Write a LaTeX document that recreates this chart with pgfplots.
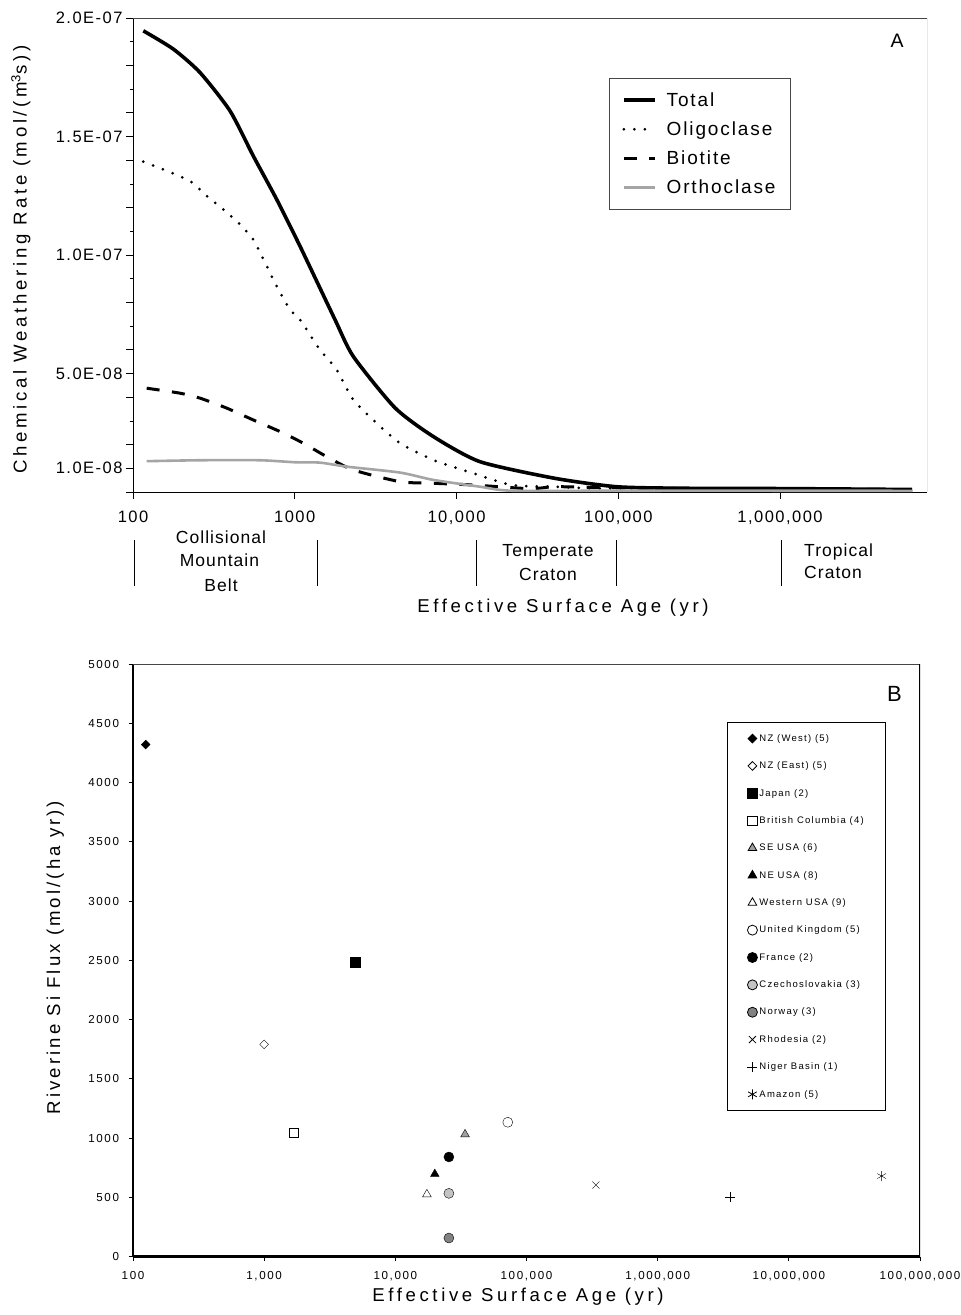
\documentclass[border=0pt]{standalone}
\usepackage{fontspec}
\setmainfont{Liberation Sans}
\usepackage{pgfplots}
\usepackage{pgfplotstable}
\pgfplotsset{compat=1.18}

\newcommand\tickA{\fontsize{16.5bp}{19bp}\selectfont\addfontfeature{LetterSpace=9}}
\newcommand\labelF{\fontsize{18.6bp}{22bp}\selectfont\addfontfeature{LetterSpace=19.5}}
\newcommand\labelFb{\fontsize{18.6bp}{22bp}\selectfont\addfontfeature{LetterSpace=16.5}}
\newcommand\regionF{\fontsize{17.5bp}{21bp}\selectfont\addfontfeature{LetterSpace=6}}
\newcommand\legA{\fontsize{19bp}{22bp}\selectfont\addfontfeature{LetterSpace=10}}
\newcommand\tickB{\fontsize{11.6bp}{14bp}\selectfont\addfontfeature{LetterSpace=14}}
\newcommand\legB{\fontsize{9.5bp}{11bp}\selectfont\addfontfeature{LetterSpace=13}}

\definecolor{ortho}{RGB}{165,165,165}
\definecolor{seusa}{RGB}{160,160,160}
\definecolor{czech}{RGB}{195,195,195}
\definecolor{norway}{RGB}{130,130,130}
\definecolor{frame}{RGB}{70,70,70}

\pgfplotstableread{
x y
115.8 1.946e-7
177.4 1.869e-7
259.5 1.770e-7
397.9 1.608e-7
554 1.418e-7
772.7 1.235e-7
1078 1.037e-7
1774 7.27e-8
2301 5.72e-8
4169 3.55e-8
7189 2.34e-8
13960 1.28e-8
40360 5.8e-9
96860 2.24e-9
233400 1.6e-9
1000000 1.45e-9
6550000 1.06e-9
}\total

\pgfplotstableread{
x y
115.8 1.394e-7
154 1.361e-7
225 1.312e-7
285.5 1.249e-7
361.6 1.192e-7
447.7 1.136e-7
554 1.065e-7
670.9 9.53e-8
773.4 8.68e-8
934.5 7.70e-8
1078 7.27e-8
1432 6.00e-8
1816 5.16e-8
2301 3.89e-8
3212 2.90e-8
4475 2.06e-8
7189 1.35e-8
12700 7.9e-9
21830 2.96e-9
40360 2.24e-9
68390 1.56e-9
233400 1.5e-9
6550000 1.0e-9
}\oligo

\pgfplotstableread{
x y
121.5 4.38e-8
195.3 4.17e-8
259.5 3.96e-8
379.6 3.54e-8
554 3.04e-8
810.6 2.55e-8
1129 2.06e-8
1576 1.49e-8
2301 9.3e-9
4475 4.36e-9
7189 3.68e-9
12700 2.96e-9
28440 1.40e-9
40360 2.24e-9
77090 1.9e-9
233400 1.5e-9
6550000 1.0e-9
}\biot

\pgfplotstableread{
x y
121.5 1.30e-8
259.5 1.34e-8
609.5 1.34e-8
1000 1.256e-8
1432 1.24e-8
2094 1.07e-8
4475 8.2e-9
7189 5.1e-9
13960 2.24e-9
21830 5.5e-10
100000 5.5e-10
1000000 5.5e-10
6600000 5.0e-10
}\orth

\begin{document}
\begin{tikzpicture}
\pgfplotsset{
  marklegend/.style={legend image code/.code={\draw[mark repeat=2,mark phase=2,##1] plot coordinates {(0bp,0bp)(6bp,0bp)(12bp,0bp)};}},
}
% ---------------- Panel A ----------------
\begin{axis}[
  at={(133bp,-492bp)}, anchor=south west,
  scale only axis, width=794bp, height=474bp,
  xmode=log, xmin=100, xmax=8.1e6,
  ymin=0, ymax=2e-7,
  axis x line*=bottom, axis y line*=left,
  axis line style={black, line width=1bp},
  xtick={100,1000,10000,100000,1000000},
  xticklabels={100,1000,{10,000},{100,000},{1,000,000}},
  xminorticks=false,
  ytick={0,1e-8,2e-8,4e-8,5e-8,6e-8,8e-8,1e-7,1.2e-7,1.4e-7,1.5e-7,1.6e-7,1.8e-7,2e-7},
  yticklabels={,1.0E-08,,,5.0E-08,,,1.0E-07,,,1.5E-07,,,2.0E-07},
  minor ytick={3e-8,7e-8,9e-8,1.1e-7,1.3e-7,1.7e-7,1.9e-7},
  scaled y ticks=false,
  tick align=outside,
  major tick length=7bp, minor tick length=3bp,
  tick style={black, line width=0.8bp},
  tick label style={font=\tickA},
  xticklabel style={yshift=-8bp},
  legend style={at={(0.599,0.8734)}, anchor=north west, draw=frame, line width=0.8bp,
    fill=white, font=\legA, inner xsep=13bp, inner ysep=12bp, row sep=10bp,
    /tikz/every odd column/.append style={column sep=8bp}},
  legend cell align=left,
  legend image code/.code={\draw[#1] (0bp,0bp) -- (31bp,0bp);},
]
\addplot[black, line width=3.6bp, smooth, tension=0.4] table[x=x,y=y] {\total};
\addlegendentry{Total}
\addplot[black, line width=3bp, line cap=round, dash pattern=on 0bp off 10.5bp, smooth, tension=0.4] table[x=x,y=y] {\oligo};
\addlegendentry{Oligoclase}
\addplot[black, line width=3bp, dash pattern=on 13bp off 12.5bp, smooth, tension=0.4] table[x=x,y=y] {\biot};
\addlegendentry{Biotite}
\addplot[ortho, line width=2.6bp, smooth, tension=0.4] table[x=x,y=y] {\orth};
\addlegendentry{Orthoclase}
\draw[frame, line width=0.9bp] (rel axis cs:0,1) -- (rel axis cs:1,1) -- (rel axis cs:1,0);
\end{axis}

% ---------------- Panel B ----------------
\begin{axis}[
  at={(133bp,-1256.5bp)}, anchor=south west,
  scale only axis, width=787bp, height=592.5bp,
  xmode=log, xmin=100, xmax=1e8,
  ymin=0, ymax=5000,
  axis x line*=bottom, axis y line*=left,
  x axis line style={black, line width=2.5bp},
  y axis line style={black, line width=1.3bp},
  xtick={100,1000,10000,100000,1000000,10000000,100000000},
  xticklabels={100,{1,000},{10,000},{100,000},{1,000,000},{10,000,000},{100,000,000}},
  xminorticks=false,
  ytick={0,500,1000,1500,2000,2500,3000,3500,4000,4500,5000},
  yticklabels={0,500,1000,1500,2000,2500,3000,3500,4000,4500,5000},
  tick align=outside,
  major tick length=4.5bp,
  tick style={black, line width=0.8bp},
  tick label style={font=\tickB},
  yticklabel style={xshift=-6bp},
  xticklabel style={yshift=-7bp},
  legend style={at={(0.7548,0.9021)}, anchor=north west, draw=black, line width=0.8bp,
    fill=white, font=\legB, inner xsep=20bp, inner ysep=10bp, row sep=15bp},
  legend cell align=left,
  mark options={solid, line width=0.9bp},
]
\addplot[only marks, marklegend, mark=square*, mark size=3.1bp, mark options={rotate=45, fill=black, draw=black}] coordinates {(125,4320)};
\addlegendentry{NZ (West) (5)}
\addplot[only marks, marklegend, mark=square*, mark size=3.1bp, mark options={rotate=45, fill=white, draw=black}] coordinates {(1000,1790)};
\addlegendentry{NZ (East) (5)}
\addplot[only marks, marklegend, mark=square*, mark size=5bp, mark options={fill=black, draw=black}] coordinates {(4970,2480)};
\addlegendentry{Japan (2)}
\addplot[only marks, marklegend, mark=square*, mark size=4.6bp, mark options={fill=white, draw=black}] coordinates {(1690,1048)};
\addlegendentry{British Columbia (4)}
\addplot[only marks, marklegend, mark=triangle*, mark size=5bp, mark options={fill=seusa, draw=black}] coordinates {(34000,1031)};
\addlegendentry{SE USA (6)}
\addplot[only marks, marklegend, mark=triangle*, mark size=5bp, mark options={fill=black, draw=black}] coordinates {(20000,696)};
\addlegendentry{NE USA (8)}
\addplot[only marks, marklegend, mark=triangle*, mark size=5bp, mark options={fill=white, draw=black}] coordinates {(17400,525)};
\addlegendentry{Western USA (9)}
\addplot[only marks, marklegend, mark=*, mark size=5bp, mark options={fill=white, draw=black}] coordinates {(72000,1133)};
\addlegendentry{United Kingdom (5)}
\addplot[only marks, marklegend, mark=*, mark size=5bp, mark options={fill=black, draw=black}] coordinates {(25600,840)};
\addlegendentry{France (2)}
\addplot[only marks, marklegend, mark=*, mark size=5bp, mark options={fill=czech, draw=black}] coordinates {(25600,533)};
\addlegendentry{Czechoslovakia (3)}
\addplot[only marks, marklegend, mark=*, mark size=5bp, mark options={fill=norway, draw=black}] coordinates {(25600,156)};
\addlegendentry{Norway (3)}
\addplot[only marks, marklegend, mark=x, mark size=5bp, mark options={draw=black}] coordinates {(338000,603)};
\addlegendentry{Rhodesia (2)}
\addplot[only marks, marklegend, mark=+, mark size=5bp, mark options={draw=black}] coordinates {(3560000,500)};
\addlegendentry{Niger Basin (1)}
\addplot[only marks, marklegend, mark=asterisk, mark size=5bp, mark options={draw=black}] coordinates {(51000000,679)};
\addlegendentry{Amazon (5)}
\draw[frame, line width=0.9bp] (rel axis cs:0,1) -- (rel axis cs:1,1);
\draw[black, line width=1.3bp] (rel axis cs:1,1) -- (rel axis cs:1,0);
\end{axis}

% ---------------- annotations ----------------
\foreach \xx in {134,317,476,616,781} {
  \draw[black, line width=0.8bp] (\xx bp,-540bp) -- (\xx bp,-586bp);
}
\node[font=\regionF, anchor=base, inner sep=0pt] at (221bp,-543.3bp) {Collisional};
\node[font=\regionF, anchor=base, inner sep=0pt] at (219.5bp,-566.7bp) {Mountain};
\node[font=\regionF, anchor=base, inner sep=0pt] at (221bp,-591bp) {Belt};
\node[font=\regionF, anchor=base, inner sep=0pt] at (548bp,-556.7bp) {Temperate};
\node[font=\regionF, anchor=base, inner sep=0pt] at (548bp,-580bp) {Craton};
\node[font=\regionF, anchor=base west, inner sep=0pt] at (804bp,-556bp) {Tropical};
\node[font=\regionF, anchor=base west, inner sep=0pt] at (804bp,-578.7bp) {Craton};

\node[font=\labelF, anchor=base, inner sep=0pt] at (563bp,-612.7bp) {Effective Surface Age (yr)};
\node[font=\labelF, anchor=base, inner sep=0pt, rotate=90] at (26.7bp,-259.5bp) {Chemical Weathering Rate (mol/(m\textsuperscript{3}s))};
\node[font=\fontsize{19.5bp}{22bp}\selectfont, anchor=base, inner sep=0pt] at (897bp,-47bp) {A};

\node[font=\labelF, anchor=base, inner sep=0pt] at (518bp,-1301.7bp) {Effective Surface Age (yr)};
\node[font=\labelFb, anchor=base, inner sep=0pt, rotate=90] at (60bp,-957.5bp) {Riverine Si Flux (mol/(ha yr))};
\node[font=\fontsize{22bp}{25bp}\selectfont, anchor=base, inner sep=0pt] at (894.5bp,-701bp) {B};

\pgfresetboundingbox
\useasboundingbox (0,0) rectangle (961bp,-1315bp);
\end{tikzpicture}
\end{document}
